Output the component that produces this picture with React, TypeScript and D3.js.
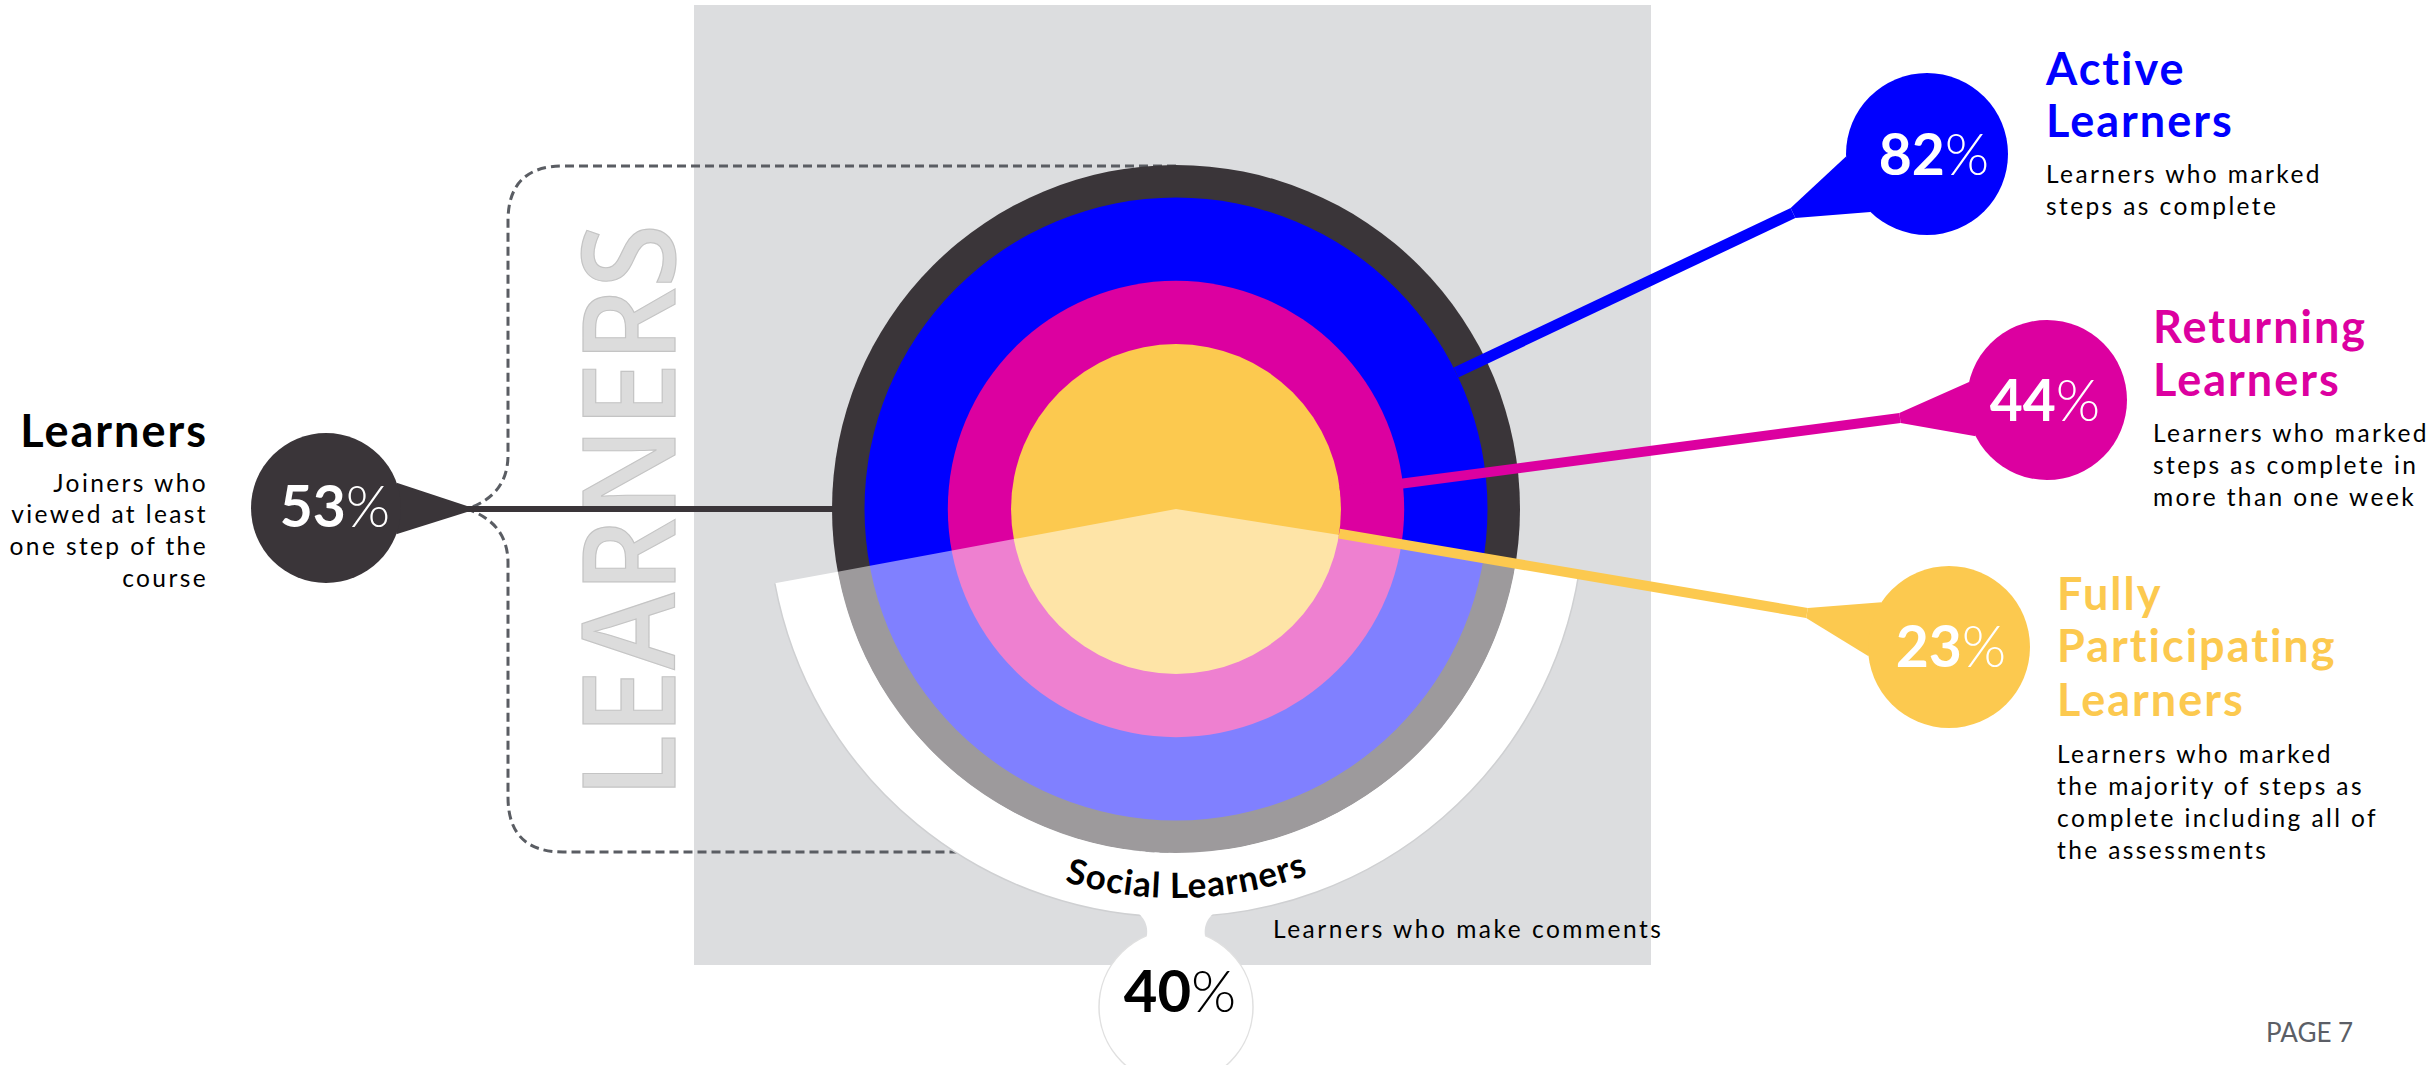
import * as d3 from "d3";

// shares (percent) shown in the figure
const groups = ["Learners", "Active", "Returning", "Fully Participating", "Social"];
const percents = [53, 82, 44, 23, 40];
// ring sizes: learners circle is the 100% base, others are share of learners
const ringValues = [100, 82, 44, 23];

const titleLines = [
  ["Learners"],
  ["Active", "Learners"],
  ["Returning", "Learners"],
  ["Fully", "Participating", "Learners"],
  ["Social Learners"],
];
const descLines = [
  ["Joiners who", "viewed at least", "one step of the", "course"],
  ["Learners who marked", "steps as complete"],
  ["Learners who marked", "steps as complete in", "more than one week"],
  ["Learners who marked", "the majority of steps as", "complete including all of", "the assessments"],
  ["Learners who make comments"],
];

const colors = ["#3a3539", "#0000ff", "#dc00a0", "#fcc94f"];
const FONT = "Lato, 'Open Sans', sans-serif";

const W = 2433;
const H = 1065;
const cx = 1176;
const cy = 509;

const r = d3.scaleSqrt().domain([0, 100]).range([0, 344]);
const deg = (d) => (d * Math.PI) / 180;

// social sector (d3 arc angles, clockwise from 12 o'clock)
const socStart = deg(99);
const socEnd = deg(259.5);
const bandOuter = 408;

// callout bubbles: bubble centre, radius, neck point, line start (angle on ring)
const callouts = [
  { c: [326, 508], rad: 75, neck: [467, 509], ring: 0, ang: 180, w: 6, th: 20, tx: 335, ty: 527, tAnchor: "end", tX: 208, tY: [447], dY: [492, 523, 555, 587], tColor: "#000" },
  { c: [1927, 154], rad: 81, neck: [1793, 213], ring: 1, ang: -26, w: 11, th: 22, tx: 1934, ty: 175, tAnchor: "start", tX: 2046, tY: [85, 137], dY: [183, 215], tColor: colors[1] },
  { c: [2047, 400], rad: 80, neck: [1900, 418], ring: 3, ang: -6, w: 10, th: 20, tx: 2045, ty: 421, tAnchor: "start", tX: 2153, tY: [343, 396], dY: [442, 474, 506], tColor: colors[2] },
  { c: [1949, 647], rad: 81, neck: [1807, 613], ring: 3, ang: 8.6, w: 10, th: 20, tx: 1951, ty: 667, tAnchor: "start", tX: 2057, tY: [610, 662, 716], dY: [763, 795, 827, 859], tColor: colors[3] },
];

function lineStart(o) {
  const rr = r(ringValues[o.ring]);
  return [cx + rr * Math.cos(deg(o.ang)), cy + rr * Math.sin(deg(o.ang))];
}

function tail(o) {
  const [sx, sy] = lineStart(o);
  const a = Math.atan2(o.neck[1] - o.c[1], o.neck[0] - o.c[0]);
  const b = Math.atan2(o.neck[1] - sy, o.neck[0] - sx);
  const t = deg(o.th);
  const pts: [number, number][] = [
    [o.c[0] + o.rad * Math.cos(a + t), o.c[1] + o.rad * Math.sin(a + t)],
    [o.c[0] + o.rad * Math.cos(a - t), o.c[1] + o.rad * Math.sin(a - t)],
    [o.neck[0] + (o.w / 2) * Math.cos(b + Math.PI / 2), o.neck[1] + (o.w / 2) * Math.sin(b + Math.PI / 2)],
    [o.neck[0] - (o.w / 2) * Math.cos(b + Math.PI / 2), o.neck[1] - (o.w / 2) * Math.sin(b + Math.PI / 2)],
  ];
  const hull = d3.polygonHull(pts);
  return "M" + hull.join("L") + "Z";
}

export default function App() {
  const R = r(100);
  const sector = d3.arc().innerRadius(0).outerRadius(R).startAngle(socStart).endAngle(socEnd)();
  const band = d3.arc().innerRadius(R).outerRadius(bandOuter).startAngle(socStart).endAngle(socEnd)();
  const bandEdge = d3.arc().innerRadius(bandOuter).outerRadius(bandOuter).startAngle(socStart).endAngle(socEnd)();

  // text arc for "Social Learners"
  const rho = 389;
  const p0 = [cx + rho * Math.cos(deg(160)), cy + rho * Math.sin(deg(160))];
  const p1 = [cx + rho * Math.cos(deg(20)), cy + rho * Math.sin(deg(20))];
  const socialPath = `M${p0[0]},${p0[1]} A${rho},${rho} 0 0 0 ${p1[0]},${p1[1]}`;

  // 40% bubble
  const bx = cx;
  const by = 1007;
  const neck = `M${bx - 40},${cy + bandOuter - 6} C${bx - 28},${cy + bandOuter + 4} ${bx - 26},${cy + bandOuter + 14} ${bx - 32},${cy + bandOuter + 30} L${bx + 32},${cy + bandOuter + 30} C${bx + 26},${cy + bandOuter + 14} ${bx + 28},${cy + bandOuter + 4} ${bx + 40},${cy + bandOuter - 6} Z`;

  const bracket = `M${cx},166 H563 Q508,166 508,221 V455 Q508,495 467,509 Q508,523 508,563 V797 Q508,852 563,852 H${cx}`;

  return (
    <div style={{ position: "fixed", left: 0, top: 0, background: "#fff" }}>
      <svg width={W} height={H} viewBox={`0 0 ${W} ${H}`} style={{ display: "block", fontFamily: FONT }}>
        <defs>
          <path id="socialArc" d={socialPath} />
        </defs>
        <rect x={0} y={0} width={W} height={H} fill="#fff" />
        <rect x={694} y={5} width={957} height={960} fill="#dcdddf" />

        <text
          transform={`translate(675,${cy + 2}) rotate(-90)`}
          textAnchor="middle"
          fontFamily="'Open Sans', sans-serif"
          fontWeight={600}
          fontSize={128}
          textLength={574}
          lengthAdjust="spacingAndGlyphs"
          fill="#dcdcdc"
          stroke="#c4c4c4"
          strokeWidth={1.2}
        >
          LEARNERS
        </text>

        <path d={bracket} fill="none" stroke="#5a5d63" strokeWidth={3} strokeDasharray="9 5" />

        {/* learners connector */}
        <line x1={callouts[0].neck[0]} y1={cy} x2={cx - R + 2} y2={cy} stroke={colors[0]} strokeWidth={6} />

        {/* rings */}
        <g transform={`translate(${cx},${cy})`}>
          {ringValues.map((v, i) => (
            <circle key={groups[i]} r={r(v)} fill={colors[i]} />
          ))}
          <path d={band} fill="#fff" />
          <path d={bandEdge} fill="none" stroke="#cfd0d2" strokeWidth={1.5} />
          <path d={sector} fill="#fff" fillOpacity={0.5} />
        </g>

        {/* social bubble */}
        <circle cx={bx} cy={by} r={77} fill="#fff" stroke="#e0e0e0" strokeWidth={1.5} />
        <path d={neck} fill="#fff" />
        <text fontSize={35} fontWeight={700} letterSpacing={1} fill="#000">
          <textPath href="#socialArc" startOffset="51.2%" textAnchor="middle">
            {titleLines[4][0]}
          </textPath>
        </text>
        <text x={1180} y={1012} textAnchor="middle" fontSize={58} fontWeight={700} fill="#000">
          {String(percents[4])}
          <tspan fontWeight={300}>%</tspan>
        </text>
        <text x={1273} y={938} fontSize={24.5} letterSpacing={2.5} fill="#000">
          {descLines[4][0]}
        </text>

        {/* callouts */}
        {callouts.map((o, i) => {
          const s = lineStart(o);
          return (
            <g key={groups[i]}>
              {i > 0 && <line x1={s[0]} y1={s[1]} x2={o.neck[0]} y2={o.neck[1]} stroke={colors[i]} strokeWidth={o.w} />}
              <path d={tail(o)} fill={colors[i]} />
              <circle cx={o.c[0]} cy={o.c[1]} r={o.rad} fill={colors[i]} />
              <text x={o.tx} y={o.ty} textAnchor="middle" fontSize={57} fontWeight={700} fill="#fff">
                {String(percents[i])}
                <tspan fontWeight={300}>%</tspan>
              </text>
              {titleLines[i].map((t, j) => (
                <text key={t + j} x={o.tX} y={o.tY[j]} textAnchor={o.tAnchor} fontSize={45} fontWeight={700} letterSpacing={2} fill={o.tColor}>
                  {t}
                </text>
              ))}
              {descLines[i].map((t, j) => (
                <text key={t + j} x={o.tX} y={o.dY[j]} textAnchor={o.tAnchor} fontSize={24.5} letterSpacing={2.4} fill="#000">
                  {t}
                </text>
              ))}
            </g>
          );
        })}

        <text x={2266} y={1042} fontSize={26} fill="#5b5e66">
          PAGE 7
        </text>
      </svg>
    </div>
  );
}
